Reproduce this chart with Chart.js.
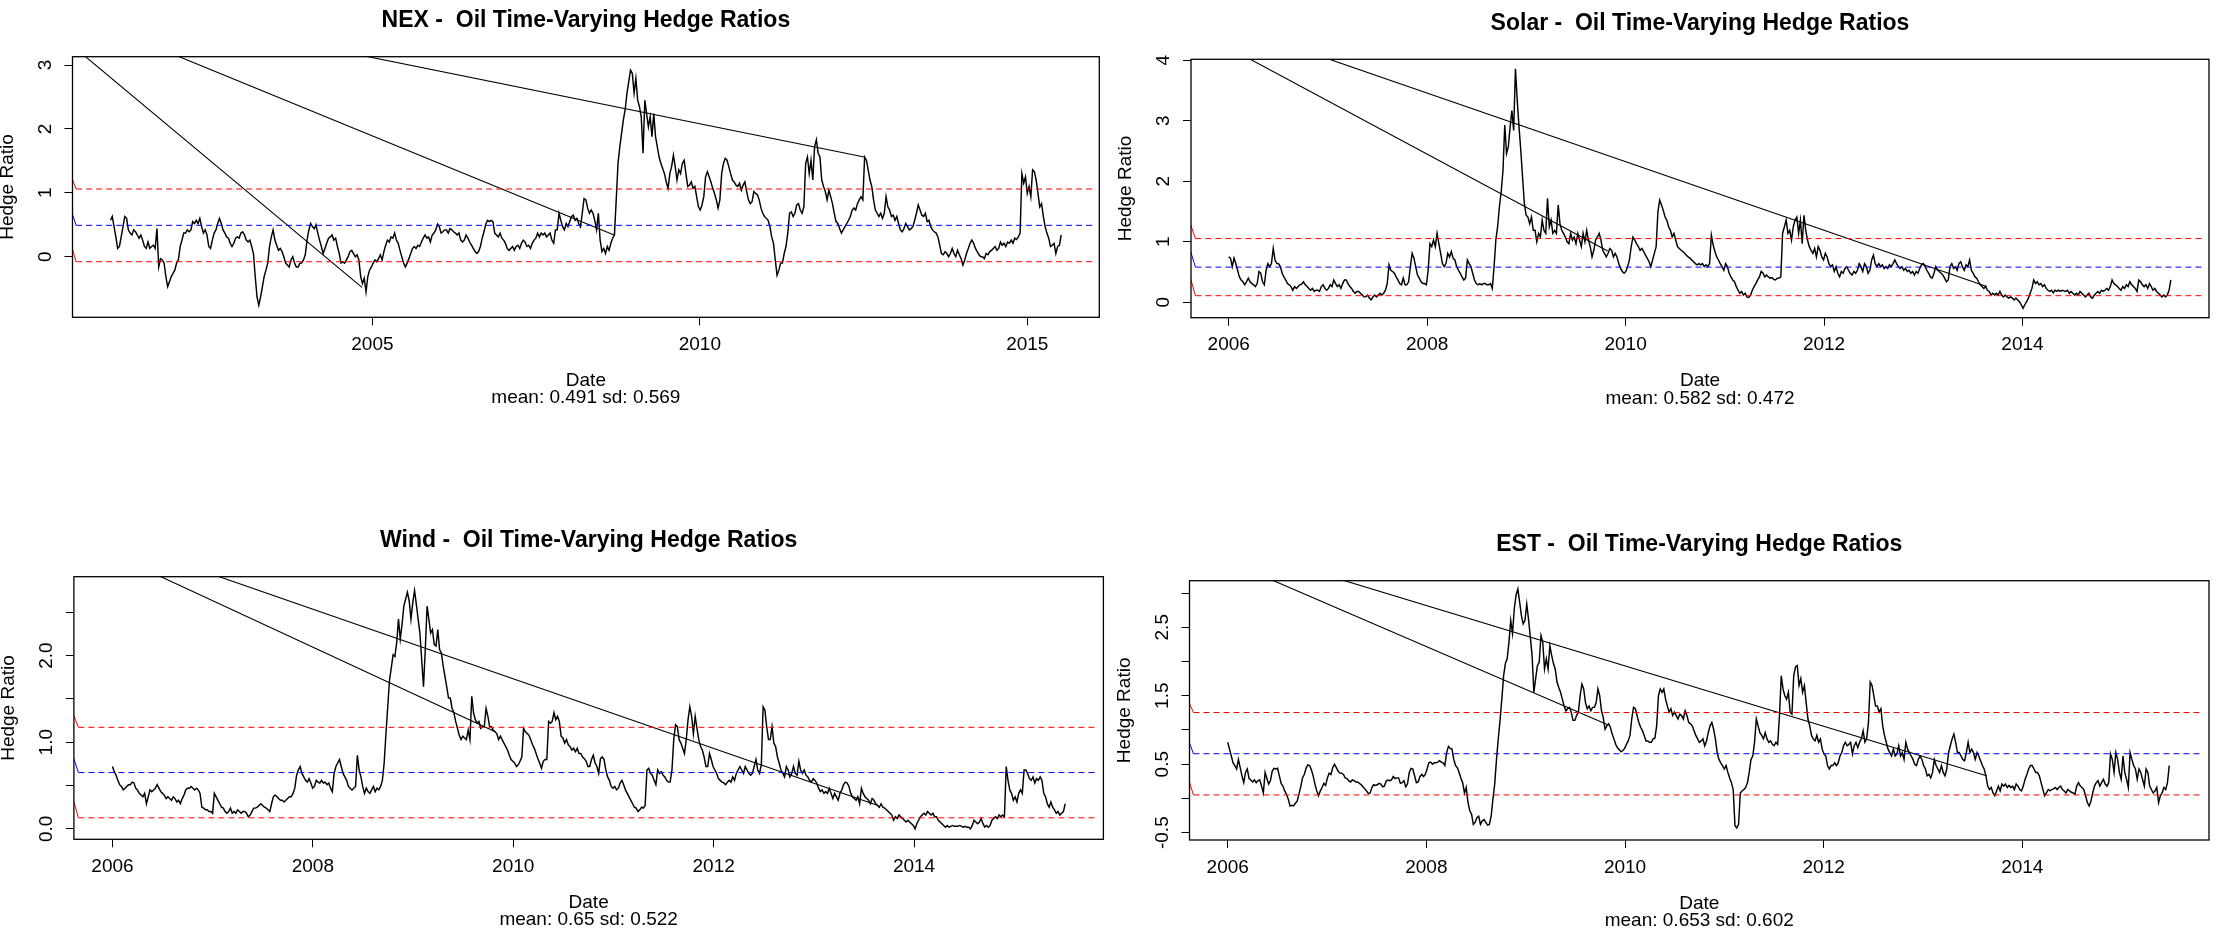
<!DOCTYPE html>
<html>
<head>
<meta charset="utf-8">
<title>Oil Time-Varying Hedge Ratios</title>
<script src="https://cdn.jsdelivr.net/npm/chart.js@4/dist/chart.umd.min.js"></script>
<style>
  html, body { margin: 0; padding: 0; background: #fff; }
  body { width: 2216px; height: 935px; position: relative; overflow: hidden; }
  canvas { position: absolute; }
</style>
</head>
<body>
<script>
// ---------------------------------------------------------------------------
// Hedge ratio series (regular sampling grid: first date + step, in years)
// ---------------------------------------------------------------------------
const nexStart = 2001.0, nexStep = 0.02729;
const nexRatio = [
  0.57,0.63,0.47,0.31,0.13,0.16,0.31,0.47,0.63,0.60,
  0.42,0.37,0.34,0.42,0.39,0.34,0.29,0.34,0.26,0.16,
  0.13,0.23,0.13,0.16,0.18,0.13,0.44,-0.16,-0.03,-0.05,
  -0.10,-0.31,-0.47,-0.39,-0.31,-0.26,-0.21,-0.10,-0.05,0.16,
  0.26,0.37,0.37,0.42,0.39,0.42,0.55,0.52,0.57,0.52,
  0.60,0.47,0.37,0.42,0.34,0.16,0.13,0.26,0.37,0.42,
  0.52,0.60,0.52,0.42,0.37,0.31,0.29,0.21,0.16,0.21,
  0.29,0.31,0.29,0.37,0.39,0.34,0.26,0.23,0.26,0.16,
  0.05,-0.31,-0.63,-0.76,-0.63,-0.47,-0.31,-0.21,-0.10,0.16,
  0.31,0.42,0.26,0.18,0.10,0.13,0.08,0.00,-0.10,-0.13,
  -0.16,-0.05,0.00,-0.10,-0.16,-0.16,-0.10,-0.10,-0.05,0.03,
  0.26,0.42,0.52,0.47,0.44,0.50,0.37,0.26,0.16,0.05,
  0.13,0.21,0.29,0.31,0.34,0.26,0.29,0.16,0.05,-0.10,
  -0.08,-0.10,-0.05,0.00,0.08,0.10,0.05,0.00,0.03,-0.05,
  -0.31,-0.42,-0.34,-0.55,-0.31,-0.21,-0.16,-0.10,-0.05,-0.08,
  -0.03,0.03,-0.05,0.08,0.18,0.26,0.23,0.31,0.29,0.37,
  0.26,0.21,0.10,0.00,-0.10,-0.16,-0.10,-0.03,0.05,0.13,
  0.16,0.13,0.18,0.16,0.23,0.29,0.34,0.29,0.31,0.23,
  0.34,0.37,0.42,0.51,0.47,0.37,0.39,0.42,0.42,0.37,
  0.44,0.42,0.39,0.37,0.34,0.37,0.26,0.23,0.26,0.34,
  0.29,0.23,0.18,0.13,0.08,0.05,0.08,0.16,0.29,0.39,
  0.51,0.57,0.55,0.57,0.55,0.37,0.34,0.31,0.37,0.29,
  0.26,0.21,0.13,0.10,0.13,0.16,0.10,0.16,0.18,0.13,
  0.21,0.26,0.23,0.16,0.18,0.13,0.21,0.26,0.29,0.37,
  0.31,0.37,0.34,0.37,0.31,0.34,0.37,0.26,0.21,0.42,
  0.42,0.68,0.57,0.47,0.42,0.52,0.47,0.55,0.63,0.65,
  0.57,0.60,0.52,0.47,0.68,0.91,0.89,0.76,0.68,0.73,
  0.68,0.57,0.42,0.68,0.26,0.08,0.13,0.05,0.16,0.10,
  0.21,0.29,0.34,0.89,1.46,1.72,1.93,2.14,2.30,2.56,
  2.74,2.92,2.87,2.56,2.79,2.45,2.35,2.19,1.62,2.45,
  2.24,2.03,2.19,1.88,2.24,1.88,1.72,1.56,1.46,1.38,
  1.30,1.17,1.07,1.30,1.41,1.59,1.41,1.20,1.36,1.30,
  1.46,1.51,1.30,1.10,1.12,1.17,1.07,1.10,0.94,0.78,
  0.73,0.81,0.94,1.25,1.33,1.25,1.17,1.07,0.99,0.89,
  0.76,0.89,1.30,1.46,1.54,1.51,1.41,1.30,1.20,1.17,
  1.12,1.10,1.15,1.04,1.12,1.17,1.02,0.89,0.83,0.86,
  1.02,0.99,0.97,0.89,0.76,0.68,0.63,0.60,0.57,0.47,
  0.31,0.21,-0.05,-0.29,-0.21,-0.10,-0.10,0.05,0.16,0.37,
  0.68,0.70,0.63,0.68,0.81,0.83,0.73,0.68,0.78,1.46,
  1.56,1.30,1.51,1.20,1.72,1.83,1.62,1.56,1.20,1.10,
  1.02,0.89,1.04,0.94,0.83,0.68,0.55,0.52,0.44,0.37,
  0.42,0.47,0.52,0.57,0.63,0.73,0.76,0.73,0.83,0.89,
  0.94,0.89,1.56,1.51,1.36,1.20,1.10,0.89,0.73,0.68,
  0.63,0.68,0.60,0.68,0.94,0.78,0.73,0.63,0.65,0.57,
  0.63,0.52,0.42,0.39,0.44,0.52,0.47,0.42,0.44,0.47,
  0.57,0.68,0.81,0.73,0.65,0.63,0.68,0.55,0.57,0.47,
  0.42,0.39,0.37,0.31,0.18,0.05,0.03,0.08,0.05,0.00,
  0.05,0.13,0.05,0.00,0.10,0.03,-0.03,-0.13,-0.05,0.05,
  0.13,0.21,0.26,0.21,0.13,0.08,0.03,0.00,0.00,-0.03,
  0.05,0.03,0.08,0.10,0.13,0.16,0.10,0.13,0.23,0.18,
  0.21,0.16,0.23,0.21,0.26,0.21,0.29,0.27,0.31,0.37,
  1.30,1.15,1.25,0.99,1.10,0.94,1.36,1.33,1.20,0.99,
  0.78,0.83,0.63,0.47,0.37,0.29,0.16,0.18,0.21,0.05,
  0.16,0.18,0.34
];

const solarStart = 2006.0, solarStep = 0.01795;
const solarRatio = [
  0.75,0.73,0.59,0.73,0.64,0.53,0.42,0.37,0.34,0.29,
  0.34,0.40,0.34,0.31,0.29,0.26,0.31,0.51,0.48,0.34,
  0.29,0.53,0.64,0.59,0.64,0.89,0.70,0.64,0.64,0.59,
  0.48,0.42,0.37,0.31,0.29,0.26,0.20,0.26,0.23,0.26,
  0.29,0.30,0.34,0.29,0.26,0.23,0.20,0.23,0.18,0.20,
  0.20,0.18,0.26,0.29,0.23,0.20,0.23,0.29,0.26,0.37,
  0.31,0.26,0.29,0.23,0.31,0.37,0.37,0.31,0.26,0.23,
  0.18,0.15,0.18,0.18,0.15,0.12,0.09,0.09,0.12,0.07,
  0.04,0.09,0.12,0.09,0.12,0.15,0.12,0.15,0.20,0.31,
  0.62,0.53,0.51,0.48,0.42,0.37,0.31,0.29,0.40,0.29,
  0.29,0.34,0.59,0.81,0.73,0.59,0.45,0.40,0.34,0.31,
  0.31,0.29,0.53,0.97,0.92,1.03,0.92,1.14,0.97,0.81,
  0.64,0.59,0.64,0.81,0.75,0.84,0.73,0.70,0.59,0.53,
  0.48,0.42,0.37,0.40,0.70,0.64,0.59,0.48,0.37,0.31,
  0.29,0.31,0.29,0.31,0.31,0.29,0.29,0.31,0.23,0.59,
  1.03,1.25,1.58,1.83,2.18,2.93,2.46,2.57,2.90,3.17,
  2.84,3.86,3.34,2.90,2.51,2.07,1.63,1.44,1.41,1.30,
  1.41,1.19,1.19,1.00,1.14,1.08,1.36,1.19,1.14,1.72,
  1.25,1.36,1.14,1.19,1.14,1.61,1.30,1.19,1.14,1.08,
  1.00,0.97,1.14,1.03,1.08,0.97,1.14,1.03,0.92,1.14,
  1.00,1.19,1.03,0.92,0.75,0.86,1.03,1.08,1.14,1.03,
  0.86,0.81,0.75,0.81,0.89,0.86,0.75,0.81,0.75,0.64,
  0.56,0.51,0.48,0.51,0.59,0.70,0.92,1.08,1.03,0.97,
  0.92,0.86,0.89,0.84,0.78,0.73,0.67,0.59,0.70,0.81,
  0.92,1.50,
  1.69,1.61,1.52,1.41,1.36,1.25,1.19,1.08,1.14,1.03,
  0.92,0.89,0.86,0.84,0.81,0.78,0.75,0.73,0.70,0.67,
  0.64,0.62,0.64,0.62,0.64,0.59,0.62,0.59,0.64,1.11,
  0.95,0.84,0.75,0.70,0.64,0.59,0.53,0.64,0.59,0.48,
  0.42,0.37,0.34,0.26,0.20,0.15,0.18,0.12,0.15,0.09,
  0.08,0.12,0.20,0.26,0.31,0.37,0.42,0.51,0.48,0.42,
  0.45,0.42,0.40,0.41,0.38,0.37,0.40,0.40,0.42,1.14,
  1.25,1.36,1.14,1.19,1.03,1.25,1.36,1.41,1.14,1.36,
  0.97,1.44,1.19,1.03,0.92,0.86,0.81,0.89,0.75,0.92,
  0.86,0.75,0.70,0.81,0.75,0.64,0.59,0.62,0.51,0.59,
  0.48,0.42,0.51,0.48,0.56,0.59,0.53,0.48,0.45,0.51,
  0.48,0.53,0.64,0.59,0.51,0.64,0.59,0.48,0.53,0.70,
  0.78,0.64,0.59,0.64,0.59,0.62,0.56,0.59,0.56,0.62,
  0.59,0.64,0.70,0.64,0.59,0.56,0.59,0.53,0.56,0.51,
  0.53,0.48,0.51,0.45,0.51,0.48,0.56,0.62,0.64,0.59,
  0.53,0.48,0.42,0.40,0.48,0.59,0.53,0.51,0.48,0.45,
  0.40,0.34,0.37,0.59,0.64,0.56,0.59,0.53,0.64,0.67,
  0.59,0.53,0.62,0.59,0.70,0.53,0.48,0.42,0.40,0.34,
  0.29,0.26,0.23,0.26,0.20,0.18,0.12,0.15,0.12,0.15,
  0.12,0.18,0.12,0.09,0.12,0.09,0.07,0.09,0.07,0.04,
  0.07,0.04,0.01,-0.04,-0.10,-0.04,0.01,0.07,0.15,0.23,
  0.37,0.31,0.34,0.29,0.31,0.26,0.29,0.23,0.20,0.18,
  0.20,0.16,0.20,0.18,0.20,0.18,0.20,0.19,0.18,0.20,
  0.15,0.18,0.15,0.12,0.15,0.12,0.18,0.15,0.12,0.09,
  0.12,0.15,0.09,0.07,0.12,0.15,0.18,0.15,0.20,0.18,
  0.20,0.23,0.20,0.26,0.37,0.31,0.29,0.26,0.23,0.20,
  0.26,0.23,0.29,0.26,0.34,0.29,0.26,0.23,0.18,0.37,
  0.34,0.29,0.26,0.29,0.23,0.31,0.26,0.20,0.23,0.18,
  0.15,0.12,0.09,0.12,0.09,0.12,0.20,0.37
];

const windStart = 2006.0, windStep = 0.01784;
const windRatio = [
  0.72,0.66,0.62,0.56,0.51,0.49,0.45,0.47,0.49,0.51,
  0.51,0.54,0.53,0.47,0.45,0.41,0.39,0.37,0.41,0.29,
  0.37,0.45,0.43,0.45,0.47,0.51,0.47,0.43,0.41,0.39,
  0.35,0.37,0.35,0.33,0.37,0.35,0.31,0.33,0.29,0.35,
  0.39,0.45,0.47,0.47,0.49,0.47,0.45,0.47,0.45,0.41,
  0.25,0.24,0.22,0.22,0.20,0.20,0.18,0.41,0.37,0.33,
  0.29,0.25,0.24,0.20,0.18,0.20,0.24,0.18,0.20,0.18,
  0.22,0.20,0.18,0.20,0.20,0.18,0.14,0.16,0.20,0.24,
  0.24,0.25,0.27,0.29,0.27,0.25,0.24,0.22,0.20,0.29,
  0.37,0.39,0.37,0.35,0.33,0.33,0.31,0.33,0.35,0.37,
  0.37,0.41,0.47,0.62,0.68,0.72,0.64,0.60,0.56,0.54,
  0.58,0.53,0.47,0.49,0.56,0.54,0.53,0.56,0.53,0.54,
  0.51,0.53,0.47,0.43,0.64,0.72,0.76,0.80,0.72,0.64,
  0.60,0.56,0.49,0.47,0.45,0.47,0.49,0.85,0.68,0.60,
  0.49,0.41,0.47,0.43,0.41,0.45,0.49,0.43,0.47,0.45,
  0.49,0.56,0.76,1.10,1.41,1.72,1.86,2.01,1.99,2.15,
  2.42,2.19,2.36,2.57,2.65,2.73,2.63,2.42,2.61,2.75,
  2.59,2.42,2.26,1.95,1.64,2.07,2.57,2.42,2.26,2.30,
  2.13,2.11,2.30,2.07,2.03,1.88,1.76,1.64,1.51,1.51,
  1.39,1.34,1.24,1.16,1.08,1.03,1.07,1.05,1.03,1.14,
  1.03,1.53,1.34,1.26,1.22,1.24,1.16,1.18,1.18,1.39,
  1.30,1.18,1.18,1.14,1.12,1.10,1.03,1.07,1.03,0.99,
  0.95,0.91,0.85,0.80,0.78,0.76,0.72,0.74,0.78,0.83,
  1.16,1.12,1.10,1.08,1.03,0.97,0.93,0.87,0.81,0.76,
  0.70,0.78,0.80,0.80,1.24,1.22,1.24,1.34,1.26,1.30,
  1.24,
  1.07,1.05,0.99,1.03,0.97,0.95,0.91,0.93,0.89,0.93,
  0.87,0.87,0.83,0.81,0.78,0.72,0.72,0.80,0.85,0.76,
  0.72,0.64,0.81,0.83,0.80,0.68,0.60,0.56,0.49,0.47,
  0.49,0.45,0.47,0.53,0.56,0.51,0.45,0.41,0.37,0.33,
  0.29,0.25,0.24,0.20,0.22,0.25,0.24,0.27,0.68,0.70,
  0.64,0.62,0.56,0.51,0.68,0.64,0.66,0.62,0.60,0.56,
  0.54,0.54,0.68,1.03,1.20,1.18,1.03,0.99,0.93,0.87,
  1.03,1.26,1.41,1.30,1.10,1.30,1.16,1.03,0.95,0.91,
  0.83,0.72,0.72,0.87,0.80,0.72,0.68,0.64,0.58,0.56,
  0.54,0.53,0.51,0.54,0.56,0.54,0.60,0.56,0.64,0.68,
  0.72,0.68,0.64,0.72,0.68,0.64,0.62,0.64,0.72,0.80,
  0.68,0.64,0.74,1.41,1.37,1.18,1.03,1.03,1.18,0.99,
  0.95,0.83,0.76,0.68,0.64,0.60,0.72,0.68,0.60,0.64,
  0.72,0.64,0.62,0.78,0.68,0.64,0.68,0.62,0.60,0.56,
  0.54,0.58,0.56,0.53,0.47,0.43,0.45,0.41,0.43,0.41,
  0.47,0.41,0.35,0.41,0.37,0.33,0.41,0.45,0.51,0.54,
  0.53,0.49,0.41,0.37,0.35,0.33,0.37,0.29,0.47,0.41,
  0.37,0.35,0.33,0.29,0.35,0.33,0.29,0.27,0.25,0.29,
  0.25,0.24,0.22,0.20,0.18,0.16,0.10,0.14,0.12,0.16,
  0.14,0.12,0.10,0.08,0.10,0.08,0.06,0.04,0.00,0.06,
  0.10,0.14,0.16,0.18,0.16,0.20,0.18,0.16,0.18,0.14,
  0.14,0.10,0.08,0.06,0.04,0.02,0.04,0.02,0.03,0.04,
  0.03,0.03,0.03,0.04,0.03,0.02,0.03,0.02,0.02,0.00,
  0.04,0.10,0.08,0.06,0.08,0.12,0.06,0.02,0.04,0.02,
  0.04,0.10,0.12,0.14,0.12,0.16,0.14,0.16,0.14,0.72,
  0.56,0.45,0.41,0.33,0.37,0.31,0.41,0.45,0.41,0.68,
  0.68,0.64,0.58,0.56,0.60,0.53,0.58,0.56,0.60,0.56,
  0.41,0.37,0.29,0.25,0.31,0.25,0.22,0.18,0.20,0.16,
  0.18,0.20,0.29
];

const estStart = 2006.0, estStep = 0.01792;
const estRatio = [
  0.82,0.72,0.62,0.52,0.48,0.43,0.57,0.45,0.33,0.23,
  0.38,0.43,0.29,0.27,0.24,0.27,0.23,0.26,0.27,0.18,
  0.08,0.38,0.29,0.21,0.26,0.40,0.44,0.43,0.44,0.33,
  0.22,0.18,0.11,0.06,-0.01,-0.11,-0.10,-0.11,-0.07,-0.04,
  0.06,0.17,0.30,0.35,0.44,0.49,0.48,0.42,0.33,0.21,
  0.11,0.04,0.11,0.16,0.22,0.19,0.30,0.37,0.35,0.45,
  0.50,0.45,0.40,0.37,0.37,0.35,0.30,0.29,0.26,0.24,
  0.27,0.26,0.24,0.24,0.22,0.20,0.17,0.14,0.11,0.07,
  0.08,0.16,0.20,0.19,0.20,0.22,0.21,0.17,0.18,0.25,
  0.27,0.26,0.27,0.32,0.29,0.30,0.30,0.22,0.23,0.26,
  0.17,0.21,0.38,0.44,0.43,0.33,0.23,0.24,0.32,0.35,
  0.32,0.35,0.43,0.52,0.53,0.50,0.52,0.52,0.53,0.55,
  0.53,0.52,0.48,0.67,0.76,0.73,0.72,0.57,0.48,0.45,
  0.38,0.30,0.23,0.08,0.16,-0.06,-0.18,-0.23,-0.38,-0.35,
  -0.28,-0.26,-0.38,-0.33,-0.31,-0.35,-0.39,-0.38,-0.26,-0.01,
  0.21,0.57,0.87,1.14,1.45,1.79,1.97,2.04,2.28,2.60,
  2.41,2.77,2.97,3.06,2.87,2.67,2.55,2.60,2.84,2.62,
  2.36,2.09,1.55,1.75,1.94,1.99,2.38,2.28,1.89,2.04,
  1.89,2.23,2.09,1.97,1.89,1.70,1.62,1.55,1.45,1.35,
  1.28,1.31,1.33,1.26,1.14,1.14,1.21,1.26,1.50,1.67,
  1.60,1.40,1.31,1.35,1.28,1.33,1.33,1.40,1.60,1.50,
  1.28,1.18,1.01,1.06,1.09,1.04,0.94,0.87,0.79,0.74,
  0.71,0.68,0.70,0.73,0.79,0.84,0.92,1.16,1.33,1.31,
  1.21,1.11,1.04,0.99,0.92,0.84,0.84,0.82,0.82,0.87,
  0.88,1.06,
  1.50,1.60,1.55,1.60,1.45,1.35,1.26,1.31,1.21,1.26,
  1.21,1.16,1.23,1.21,1.16,1.28,1.21,1.11,1.09,1.06,
  0.99,0.92,0.87,0.82,0.84,0.87,0.77,0.84,0.96,1.06,
  1.11,1.01,0.87,0.67,0.57,0.52,0.48,0.43,0.48,0.38,
  0.30,0.23,0.13,-0.40,-0.43,-0.38,0.08,0.11,0.13,0.16,
  0.23,0.38,0.57,0.62,0.82,1.16,1.06,0.96,0.92,0.87,
  0.96,0.87,0.82,0.84,0.79,0.77,0.82,0.79,1.21,1.79,
  1.60,1.50,1.45,1.55,1.26,1.23,1.79,1.92,1.94,1.65,
  1.75,1.55,1.65,1.40,1.16,1.06,0.92,0.87,0.84,0.92,
  0.82,0.87,0.72,0.65,0.62,0.48,0.43,0.48,0.48,0.52,
  0.48,0.52,0.62,0.67,0.77,0.82,0.77,0.79,0.82,0.65,
  0.77,0.82,0.74,0.82,0.87,0.99,0.82,0.87,1.11,1.70,
  1.65,1.50,1.35,1.35,1.26,1.31,1.06,0.92,0.82,0.72,
  0.67,0.62,0.72,0.62,0.65,0.77,0.62,0.67,0.57,0.82,
  0.72,0.67,0.62,0.57,0.50,0.48,0.57,0.62,0.57,0.48,
  0.43,0.33,0.35,0.30,0.38,0.57,0.48,0.43,0.38,0.48,
  0.38,0.33,0.43,0.67,0.77,0.87,0.94,0.82,0.67,0.67,
  0.62,0.57,0.55,0.67,0.82,0.67,0.72,0.67,0.57,0.67,
  0.62,0.55,0.48,0.43,0.33,0.18,0.13,0.16,0.08,0.04,
  0.11,0.18,0.11,0.21,0.18,0.21,0.16,0.19,0.16,0.18,
  0.13,0.21,0.18,0.13,0.11,0.18,0.28,0.35,0.43,0.48,
  0.48,0.43,0.38,0.38,0.33,0.23,0.13,0.04,0.08,0.13,
  0.11,0.13,0.14,0.16,0.13,0.16,0.18,0.13,0.11,0.08,
  0.13,0.11,0.09,0.08,0.06,0.18,0.23,0.18,0.16,0.13,
  0.04,-0.06,-0.11,-0.04,0.08,0.18,0.23,0.26,0.18,0.23,
  0.28,0.21,0.18,0.23,0.65,0.57,0.38,0.67,0.57,0.38,
  0.28,0.62,0.38,0.28,0.16,0.67,0.57,0.48,0.43,0.28,
  0.43,0.38,0.28,0.18,0.43,0.38,0.18,0.13,0.08,0.11,
  0.16,-0.06,0.04,0.08,0.16,0.13,0.23,0.48
];

// Block joins: every estimation block is linked back to a common origin point
const nexOrigin = [1999.24, 4.31];
const nexBreaks = [[2004.84, -0.48], [2008.69, 0.34], [2012.51, 1.56]];
const solarOrigin = [2004.77, 5.29];
const solarBreaks = [[2009.82, 0.85], [2013.64, 0.26]];
const windOrigin = [2004.75, 3.84];
const windBreaks = [[2009.82, 1.12], [2013.64, 0.27]];
const estOrigin = [2004.75, 4.25];
const estBreaks = [[2009.82, 1.08], [2013.64, 0.33]];

// Summary statistics (reference lines at mean and mean +/- sd)
const nexStats = { mean: 0.491, sd: 0.569 };
const solarStats = { mean: 0.582, sd: 0.472 };
const windStats = { mean: 0.65, sd: 0.522 };
const estStats = { mean: 0.653, sd: 0.602 };

// Date span of the reference lines
const nexBand = [2000.475, 2016.0];
const solarBand = [2005.665, 2015.83];
const windBand = [2005.66, 2015.83];
const estBand = [2005.655, 2015.82];

// Axis ranges and ticks
const nexXRange = [2000.42, 2016.10], nexYRange = [-0.948, 3.13];
const solarXRange = [2005.62, 2015.88], solarYRange = [-0.254, 4.017];
const windXRange = [2005.615, 2015.89], windYRange = [-0.12, 2.91];
const estXRange = [2005.615, 2015.88], estYRange = [-0.607, 3.18];

const nexXTicks = [2005, 2010, 2015];
const otherXTicks = [2006, 2008, 2010, 2012, 2014];
const nexYTicks = [0, 1, 2, 3];
const nexYLabels = ['0', '1', '2', '3'];
const solarYTicks = [0, 1, 2, 3, 4];
const solarYLabels = ['0', '1', '2', '3', '4'];
const windYTicks = [0, 0.5, 1, 1.5, 2, 2.5];
const windYLabels = ['0.0', '', '1.0', '', '2.0', ''];
const estYTicks = [-0.5, 0, 0.5, 1, 1.5, 2, 2.5, 3];
const estYLabels = ['-0.5', '', '0.5', '', '1.5', '', '2.5', ''];

// ---------------------------------------------------------------------------
// Panels
// ---------------------------------------------------------------------------
const FONT = "'Liberation Sans', Arial, Helvetica, sans-serif";
Chart.defaults.font.family = FONT;
Chart.defaults.color = '#000';

const TICK_FONT = 19, TITLE_FONT = 23, TICK_LEN = 8, X_AXIS_H = 95;

const panels = [
  { id: 'nex', title: 'NEX -  Oil Time-Varying Hedge Ratios',
    start: nexStart, step: nexStep, values: nexRatio, origin: nexOrigin, breaks: nexBreaks,
    stats: nexStats, band: nexBand, xRange: nexXRange, yRange: nexYRange,
    xTicks: nexXTicks, yTicks: nexYTicks, yLabels: nexYLabels,
    canvas: [0, 0, 1110, 467], box: [72.5, 56.7, 1099.3, 317.3] },
  { id: 'solar', title: 'Solar -  Oil Time-Varying Hedge Ratios',
    start: solarStart, step: solarStep, values: solarRatio, origin: solarOrigin, breaks: solarBreaks,
    stats: solarStats, band: solarBand, xRange: solarXRange, yRange: solarYRange,
    xTicks: otherXTicks, yTicks: solarYTicks, yLabels: solarYLabels,
    canvas: [1110, 0, 1106, 467], box: [1191, 59.3, 2209, 317.7] },
  { id: 'wind', title: 'Wind -  Oil Time-Varying Hedge Ratios',
    start: windStart, step: windStep, values: windRatio, origin: windOrigin, breaks: windBreaks,
    stats: windStats, band: windBand, xRange: windXRange, yRange: windYRange,
    xTicks: otherXTicks, yTicks: windYTicks, yLabels: windYLabels,
    canvas: [0, 467, 1110, 468], box: [73.9, 576.7, 1103.4, 839.3] },
  { id: 'est', title: 'EST -  Oil Time-Varying Hedge Ratios',
    start: estStart, step: estStep, values: estRatio, origin: estOrigin, breaks: estBreaks,
    stats: estStats, band: estBand, xRange: estXRange, yRange: estYRange,
    xTicks: otherXTicks, yTicks: estYTicks, yLabels: estYLabels,
    canvas: [1110, 467, 1106, 468], box: [1189.5, 580.7, 2209, 840] }
];

// Plot frame drawn around the chart area
const framePlugin = {
  id: 'frame',
  afterDatasetsDraw(chart) {
    const { ctx, chartArea: a } = chart;
    ctx.save();
    ctx.strokeStyle = '#000';
    ctx.lineWidth = 1.3;
    ctx.strokeRect(a.left, a.top, a.right - a.left, a.bottom - a.top);
    ctx.restore();
  }
};

const measureCtx = document.createElement('canvas').getContext('2d');
function widestLabel(labels) {
  measureCtx.font = TICK_FONT + 'px ' + FONT;
  return Math.max(...labels.map(s => measureCtx.measureText(s).width));
}

function buildPanel(p) {
  const [cx, cy, cw, ch] = p.canvas;
  const [L, T, R, B] = p.box;
  const cv = document.createElement('canvas');
  cv.id = p.id;
  cv.width = cw; cv.height = ch;
  cv.style.left = cx + 'px'; cv.style.top = cy + 'px';
  cv.style.width = cw + 'px'; cv.style.height = ch + 'px';
  document.body.appendChild(cv);

  const series = p.values.map((v, i) => ({ x: p.start + i * p.step, y: v }));
  const joins = [];
  p.breaks.forEach(b => {
    joins.push({ x: p.origin[0], y: p.origin[1] });
    joins.push({ x: b[0], y: b[1] });
  });
  const refLine = level => [
    { x: p.origin[0], y: p.origin[1] },
    { x: p.band[0], y: level },
    { x: p.band[1], y: level }
  ];
  const { mean, sd } = p.stats;
  const dashed = { borderDash: c => (c.p0DataIndex === 0 ? [] : [6, 4]) };
  const common = { pointRadius: 0, tension: 0, fill: false, borderWidth: 1 };

  const grid = { display: true, drawOnChartArea: false, drawTicks: true,
                 tickLength: TICK_LEN, color: '#000', lineWidth: 1 };
  const yPad = 27.2 - TICK_LEN - widestLabel(p.yLabels) / 2;

  new Chart(cv, {
    type: 'line',
    data: {
      datasets: [
        { ...common, data: refLine(mean + sd), borderColor: '#ff0000', segment: dashed },
        { ...common, data: refLine(mean), borderColor: '#0000ff', segment: dashed },
        { ...common, data: refLine(mean - sd), borderColor: '#ff0000', segment: dashed },
        { ...common, data: joins, borderColor: '#000', borderWidth: 1.1 },
        { ...common, data: series, borderColor: '#000', borderWidth: 1.45 }
      ]
    },
    options: {
      responsive: false,
      animation: false,
      devicePixelRatio: 1,
      events: [],
      layout: {
        autoPadding: false,
        padding: { left: 0, top: 0, right: cx + cw - R, bottom: cy + ch - B - X_AXIS_H }
      },
      plugins: {
        legend: { display: false },
        tooltip: { enabled: false },
        title: {
          display: true, text: p.title, fullSize: false, color: '#000',
          font: { size: TITLE_FONT, weight: 'bold', lineHeight: 1.2 },
          padding: { top: T - cy - 49.8, bottom: 22.2 }
        }
      },
      scales: {
        x: {
          type: 'linear', position: 'bottom', min: p.xRange[0], max: p.xRange[1],
          afterBuildTicks: s => { s.ticks = p.xTicks.map(v => ({ value: v })); },
          afterFit: s => { s.height = X_AXIS_H; },
          ticks: { autoSkip: false, maxRotation: 0, minRotation: 0, padding: 8,
                   font: { size: TICK_FONT }, color: '#000', callback: v => String(v) },
          grid: grid,
          border: { display: false },
          title: {
            display: true, color: '#000',
            text: ['Date', 'mean: ' + mean + ' sd: ' + sd],
            font: { size: TICK_FONT, lineHeight: '17.5px' },
            padding: { top: 0, bottom: 5.35 }
          }
        },
        y: {
          type: 'linear', position: 'left', min: p.yRange[0], max: p.yRange[1],
          afterBuildTicks: s => { s.ticks = p.yTicks.map(v => ({ value: v })); },
          afterFit: s => { s.width = L - cx; },
          ticks: { autoSkip: false, minRotation: 90, maxRotation: 90, crossAlign: 'center',
                   padding: yPad, font: { size: TICK_FONT }, color: '#000',
                   callback: (v, i) => p.yLabels[i] },
          grid: grid,
          border: { display: false },
          title: {
            display: true, text: 'Hedge Ratio', color: '#000',
            font: { size: TICK_FONT, lineHeight: 1.2 },
            padding: { top: L - cx - 64.8 - 11.4, bottom: 0 }
          }
        }
      }
    },
    plugins: [framePlugin]
  });
}

panels.forEach(buildPanel);
</script>
</body>
</html>
